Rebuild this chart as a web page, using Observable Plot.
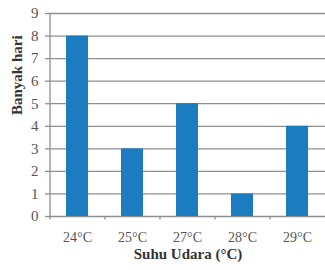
<!DOCTYPE html>
<html><head><meta charset="utf-8">
<script src="https://cdn.jsdelivr.net/npm/d3@7"></script>
<script src="https://cdn.jsdelivr.net/npm/@observablehq/plot@0.6"></script>
<style>body{margin:0;background:#fff}</style>
</head><body><div id="chart"></div>
<script>
const categories = ["24°C", "25°C", "27°C", "28°C", "29°C"];
const days = [8, 3, 5, 1, 4];
const yTicks = [0, 1, 2, 3, 4, 5, 6, 7, 8, 9];
const xTitle = "Suhu Udara (°C)";
const yTitle = "Banyak hari";

const data = categories.map((c, i) => ({cat: c, v: days[i]}));
const font = "'Liberation Serif', 'DejaVu Serif', serif";

const chart = Plot.plot({
  width: 325, height: 270,
  marginLeft: 50, marginRight: 0, marginTop: 13, marginBottom: 54,
  style: {fontFamily: font, fontSize: "13px", background: "#fff", color: "#444"},
  x: {domain: categories, paddingInner: 0.6, paddingOuter: 0.3, label: null},
  y: {domain: [0, 9], ticks: yTicks, label: null},
  marks: [
    Plot.gridY(yTicks, {stroke: "#8f8f8f", strokeOpacity: 1, strokeWidth: 1.3}),
    Plot.barY(data, {x: "cat", y: "v", fill: "#1b7cc0"}),
    Plot.ruleX(categories.slice(0, -1), {x: d => d, dx: 27.5, y1: 0, y2: -0.16, stroke: "#8f8f8f", strokeWidth: 1.3}),
    Plot.ruleX([0], {x: () => categories[0], dx: -27.5, y1: -0.16, y2: 9, stroke: "#8f8f8f", strokeWidth: 1.3}),
    Plot.axisY(yTicks, {tickSize: 5, tickPadding: 7, fontSize: 15, stroke: "#8f8f8f", strokeWidth: 1.3, label: null, fill: "#555"}),
    Plot.axisX({tickSize: 0, tickPadding: 16, fontSize: 14, label: null, fill: "#555"}),
    Plot.text([xTitle], {frameAnchor: "bottom", dy: 42, fontWeight: "bold", fontSize: 15, fill: "#333"}),
    Plot.text([yTitle], {frameAnchor: "left", dx: -33, rotate: -90, fontWeight: "bold", fontSize: 15, fill: "#333"})
  ]
});
document.getElementById("chart").append(chart);
</script>
</body></html>
